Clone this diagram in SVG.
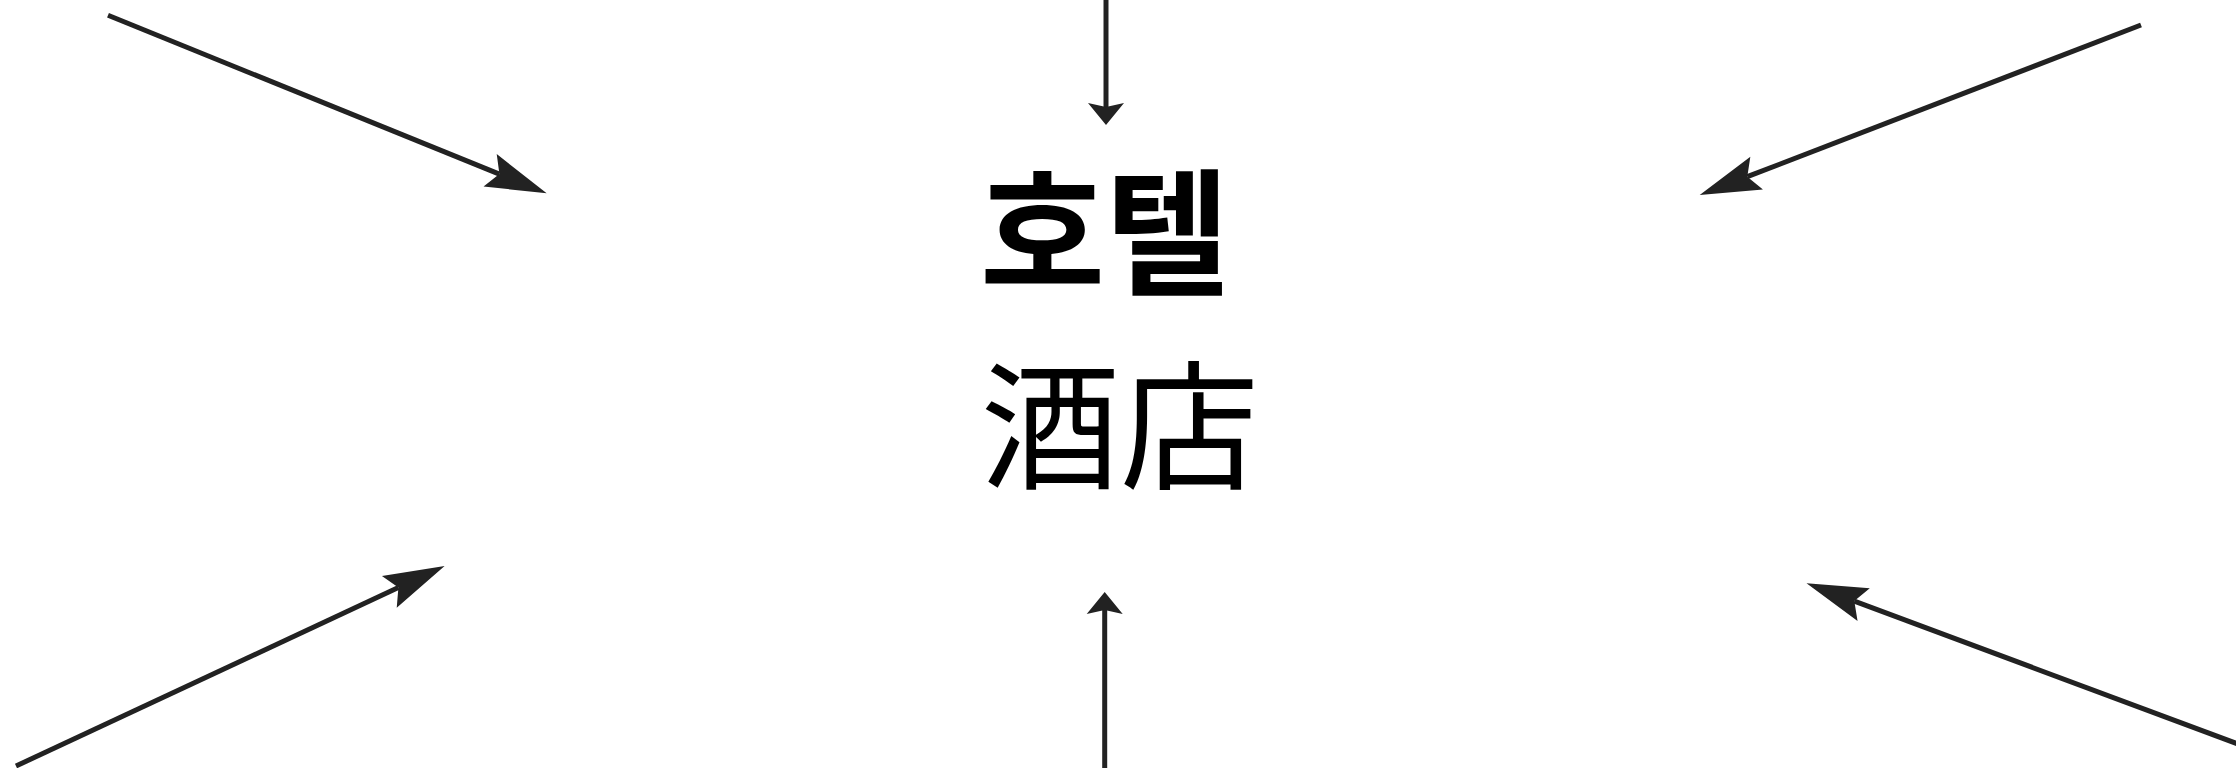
<svg xmlns="http://www.w3.org/2000/svg" width="2236" height="768" viewBox="0 0 2236 768">
  <style>
    .conn { stroke: #222222; stroke-width: 5; fill: none; }
    .kr { font-family: "Liberation Sans", "Noto Sans CJK KR", sans-serif; font-size: 136px; font-weight: bold; fill: #000000; }
    .zh { font-family: "Liberation Sans", "Noto Sans CJK KR", sans-serif; font-size: 139px; font-weight: normal; fill: #000000; }
  </style>
  <defs>
    <marker id="headBig" markerUnits="userSpaceOnUse" viewBox="0 0 61 35" markerWidth="61" markerHeight="35" refX="10" refY="17.5" orient="auto" overflow="visible">
      <path d="M0,0 L61,17.5 L0,35 L10,17.5 Z" fill="#222222"/>
    </marker>
    <marker id="headSmall" markerUnits="userSpaceOnUse" viewBox="0 0 22 36" markerWidth="22" markerHeight="36" refX="4" refY="18" orient="auto" overflow="visible">
      <path d="M0,0 L22,18 L0,36 L4,18 Z" fill="#222222"/>
    </marker>
  </defs>
  <rect x="0" y="0" width="2236" height="768" fill="#ffffff"/>
  <g id="connectors">
    <line class="conn" x1="1106" y1="-5" x2="1106" y2="107" marker-end="url(#headSmall)"/>
    <line class="conn" x1="1104.7" y1="775" x2="1104.7" y2="610" marker-end="url(#headSmall)"/>
    <line class="conn" x1="108" y1="15.3" x2="499.4" y2="174.1" marker-end="url(#headBig)"/>
    <line class="conn" x1="2141" y1="25" x2="1747.3" y2="176.7" marker-end="url(#headBig)"/>
    <line class="conn" x1="16" y1="766" x2="398.4" y2="587.6" marker-end="url(#headBig)"/>
    <line class="conn" x1="2250" y1="748.5" x2="1854.3" y2="601.1" marker-end="url(#headBig)"/>
  </g>
  <g id="node-hotel-kr">
    <text class="kr" x="980" y="284">호텔</text>
  </g>
  <g id="node-hotel-zh">
    <text class="zh" x="981" y="478">酒店</text>
  </g>
</svg>
